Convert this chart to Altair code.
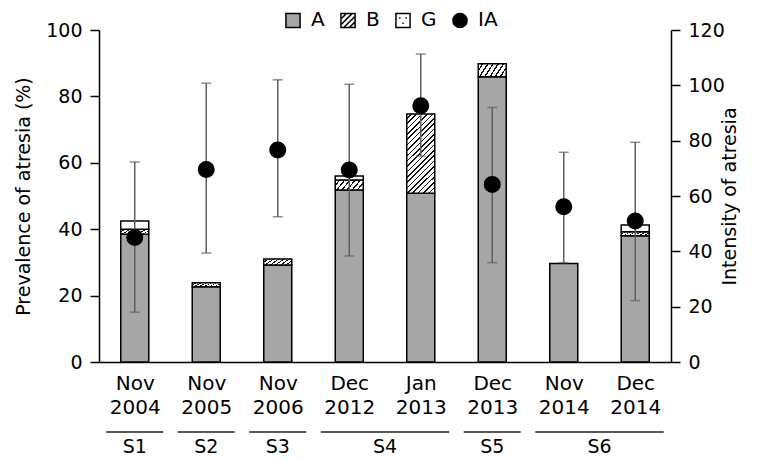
import json
import altair as alt
import pandas as pd

# ---------------- data ----------------
months = ["Nov 2004", "Nov 2005", "Nov 2006", "Dec 2012",
          "Jan 2013", "Dec 2013", "Nov 2014", "Dec 2014"]
a_vals = [38.5, 22.7, 29.2, 51.8, 50.8, 85.9, 29.7, 38.0]
b_vals = [1.5, 1.2, 1.8, 3.0, 23.9, 3.9, 0.0, 1.2]
g_vals = [2.5, 0.0, 0.0, 1.2, 0.0, 0.0, 0.0, 2.1]
ia_vals = [45.0, 69.6, 76.6, 69.4, 92.6, 64.2, 56.1, 51.0]
ia_lo = [18.0, 39.4, 52.5, 38.3, 74.4, 35.9, 35.9, 22.2]
ia_hi = [72.3, 100.8, 102.0, 100.4, 111.3, 92.0, 75.8, 79.4]
groups = ["S1", "S2", "S3", "S4", "S5", "S6"]
group_start = [0, 1, 2, 3, 5, 6]
group_end = [0, 1, 2, 4, 5, 7]
left_ticks = [0, 20, 40, 60, 80, 100]
right_ticks = [0, 20, 40, 60, 80, 100, 120]
legend_names = ["A", "B", "G", "IA"]

W, H = 572, 332
FONT = "DejaVu Sans"

bars = pd.DataFrame({"idx": list(range(len(months))), "A": a_vals, "B": b_vals, "G": g_vals})
ia = pd.DataFrame({"idx": list(range(len(months))), "IA": ia_vals, "lo": ia_lo,
                   "hi": ia_hi, "seg": ["IA"] * len(months)})
grp = pd.DataFrame({"name": groups, "start": group_start, "end": group_end})


def hatch(n, gx, gy, dark=0.3):
    # scale the gradient vector so the far corner of the box lands at offset 1
    k = (gx + gy) / (gx * gx + gy * gy)
    gx, gy = gx * k, gy * k
    stops = []
    for i in range(n):
        a = i / n
        m = (i + 1 - dark) / n
        b = (i + 1) / n
        stops += [alt.GradientStop(color="white", offset=a),
                  alt.GradientStop(color="white", offset=m),
                  alt.GradientStop(color="#111111", offset=m),
                  alt.GradientStop(color="#111111", offset=b)]
    return alt.LinearGradient(gradient="linear", stops=stops, x1=0, y1=0, x2=gx, y2=gy)


label_expr = "split(" + json.dumps(months) + "[datum.value], ' ')"
x_axis = alt.Axis(values=list(range(len(months))), labelExpr=label_expr, ticks=False,
                  grid=False, title=None, labelFontSize=20, labelLineHeight=24,
                  labelBaseline="top", labelPadding=11, labelAngle=0)
x_scale = alt.Scale(domain=[-0.5, len(months) - 0.5], nice=False, zero=False, padding=0)


def X(field):
    return alt.X(field, type="quantitative", scale=x_scale, axis=x_axis)


yl_scale = alt.Scale(domain=[0, 100], nice=False)
yl_axis = alt.Axis(values=left_ticks, title="Prevalence of atresia (%)", grid=False,
                   orient="left", titlePadding=12, labelPadding=8, tickSize=9)


def YL(field):
    return alt.Y(field, type="quantitative", scale=yl_scale, axis=yl_axis)


yr_scale = alt.Scale(domain=[0, 120], nice=False)
yr_axis = alt.Axis(values=right_ticks, title="Intensity of atresia", grid=False,
                   orient="right", titlePadding=15, labelPadding=8, tickSize=9,
                   titleAngle=270)


def YR(field):
    return alt.Y(field, type="quantitative", scale=yr_scale, axis=yr_axis)


base = alt.Chart(bars).transform_calculate(
    ab="datum.A + datum.B", abg="datum.A + datum.B + datum.G"
)
bar_style = dict(size=28, stroke="black", strokeWidth=1.5)
barA = base.mark_bar(fill="#a6a6a6", **bar_style).encode(x=X("idx"), y=YL("A"))
barB_tall = base.transform_filter("datum.B >= 10").mark_bar(
    fill=hatch(20, 0.35, 1.0), **bar_style).encode(x=X("idx"), y=YL("A"), y2="ab:Q")
barB_small = base.transform_filter("datum.B > 0 && datum.B < 10").mark_bar(
    fill=hatch(7, 1.0, 0.3), **bar_style).encode(x=X("idx"), y=YL("A"), y2="ab:Q")
barG = base.transform_filter("datum.G > 0").mark_bar(fill="white", **bar_style).encode(
    x=X("idx"), y=YL("ab"), y2="abg:Q")

gbase = alt.Chart(grp).transform_calculate(mid="(datum.start + datum.end) / 2")
grules = gbase.mark_rule(color="#222222", strokeWidth=1.5, xOffset=-28.5, x2Offset=28.5).encode(
    x=X("start"), x2="end:Q", y=alt.value(H + 70))
gtext = gbase.mark_text(fontSize=19, font=FONT, baseline="middle", color="black").encode(
    x=X("mid"), y=alt.value(H + 85), text="name:N")

left = alt.layer(barA, barB_tall, barB_small, barG, grules, gtext)

ibase = alt.Chart(ia)
err = ibase.mark_rule(color="#5f5f5f", strokeWidth=1.5).encode(x=X("idx"), y=YR("lo"), y2="hi:Q")
cap_lo = ibase.mark_tick(orient="horizontal", size=10, thickness=1.5, color="#5f5f5f").encode(
    x=X("idx"), y=YR("lo"))
cap_hi = ibase.mark_tick(orient="horizontal", size=10, thickness=1.5, color="#5f5f5f").encode(
    x=X("idx"), y=YR("hi"))

sq = "M-1,-1H1V1H-1Z"
hatch_path = sq + " M-1,-0.2L-0.2,-1 M-1,0.6L0.6,-1 M-0.6,1L1,-0.6 M0.2,1L1,0.2"
dot_path = sq + " M-0.55,-0.35L-0.35,-0.35 M0.35,-0.35L0.55,-0.35 M-0.1,0.4L0.1,0.4"
leg = alt.Legend(orient="none", legendX=184, legendY=-20, direction="horizontal", title=None,
                 labelFontSize=20, labelFont=FONT, symbolSize=200, symbolStrokeColor="black",
                 symbolStrokeWidth=1.5, columnPadding=12, labelOffset=8)
pts = ibase.mark_point(filled=False, size=240, opacity=1, strokeWidth=1.5).encode(
    x=X("idx"), y=YR("IA"),
    fill=alt.Fill("seg:N", scale=alt.Scale(domain=legend_names,
                                           range=["#a6a6a6", "white", "white", "black"]), legend=leg),
    stroke=alt.Stroke("seg:N", scale=alt.Scale(domain=legend_names,
                                               range=["black", "black", "black", "black"]), legend=leg),
    shape=alt.Shape("seg:N", scale=alt.Scale(domain=legend_names,
                                             range=[sq, hatch_path, dot_path, "circle"]), legend=leg),
)

right = alt.layer(err, cap_lo, cap_hi, pts)

chart = alt.layer(left, right).resolve_scale(y="independent").properties(
    width=W, height=H, padding={"left": 6, "top": 2, "right": 0, "bottom": 0}
).configure_view(stroke=None).configure_axis(
    domainColor="black", domainWidth=1.5, tickColor="black", tickWidth=1.5,
    labelColor="black", titleColor="black", labelFont=FONT, titleFont=FONT,
    labelFontSize=19, titleFontSize=19, titleFontWeight="normal"
)

chart.save("out.html", embed_options={"renderer": "svg", "actions": False})
